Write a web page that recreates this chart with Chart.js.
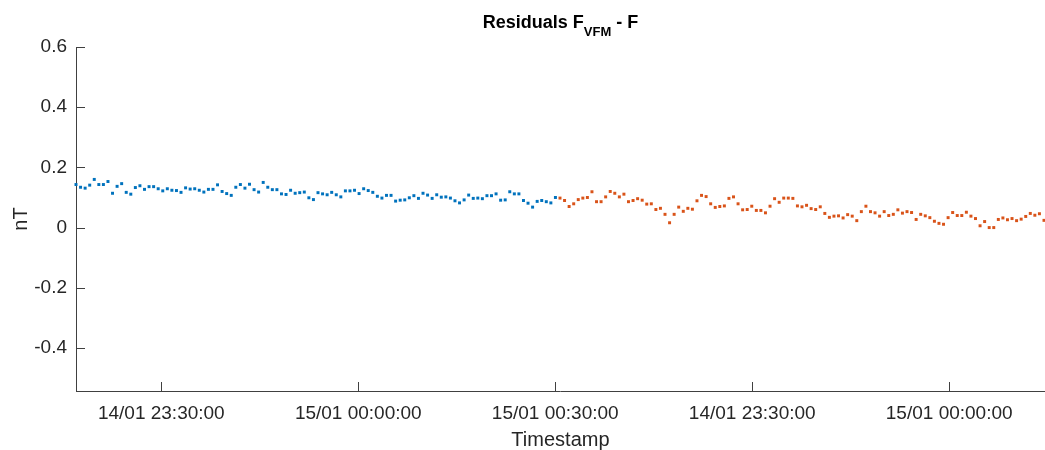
<!DOCTYPE html>
<html>
<head>
<meta charset="utf-8">
<script src="https://cdn.jsdelivr.net/npm/chart.js@4/dist/chart.umd.min.js"></script>
<style>
  body { margin: 0; overflow: hidden; background: #fff; }
  #wrap { position: relative; width: 1047px; height: 456px; }
  #title {
    position: absolute; left: 76px; width: 969px; top: 12px;
    text-align: center; font: bold 18px "Liberation Sans", Arial, sans-serif;
    line-height: 20px; color: #000;
  }
  #title sub { font-size: 13px; vertical-align: -8px; line-height: 0; }
</style>
</head>
<body>
<div id="wrap">
  <div id="title">Residuals F<sub>VFM</sub> - F</div>
  <canvas id="chart" width="1047" height="456"></canvas>
</div>
<script>
// residuals (nT), first run and second run, one value per sample
const blueY = [
  0.143,0.134,0.131,0.141,0.160,0.143,0.143,0.153,0.114,0.137,0.146,0.117,0.111,0.133,0.139,0.127,0.136,0.136,
  0.129,0.122,0.129,0.124,0.123,0.117,0.132,0.128,0.129,0.124,0.118,0.127,0.127,0.142,0.120,0.113,0.107,0.134,
  0.143,0.131,0.144,0.126,0.118,0.150,0.134,0.126,0.126,0.112,0.110,0.124,0.114,0.116,0.118,0.099,0.093,0.116,
  0.112,0.109,0.117,0.109,0.102,0.122,0.122,0.124,0.113,0.129,0.123,0.117,0.104,0.098,0.107,0.107,0.088,
  0.091,0.092,0.099,0.106,0.097,0.114,0.108,0.097,0.109,0.101,0.102,0.098,0.089,0.082,0.092,0.108,0.097,0.098,
  0.096,0.106,0.106,0.112,0.091,0.092,0.119,0.112,0.112,0.090,0.081,0.068,0.087,0.090,0.086,0.082,0.100
];
const orangeY = [
  0.098,0.090,0.070,0.079,0.093,0.098,0.100,0.119,0.086,0.086,0.102,0.120,0.114,0.102,0.111,0.086,0.090,0.096,
  0.091,0.078,0.079,0.060,0.064,0.044,0.016,0.044,0.068,0.054,0.064,0.061,0.089,0.107,0.103,0.079,0.067,
  0.070,0.072,0.097,0.102,0.079,0.059,0.060,0.071,0.057,0.057,0.049,0.071,0.096,0.084,0.098,0.098,0.097,0.072,
  0.069,0.074,0.063,0.060,0.069,0.047,0.034,0.038,0.039,0.032,0.043,0.038,0.023,0.053,0.071,0.053,0.049,
  0.038,0.053,0.040,0.044,0.059,0.048,0.053,0.050,0.027,0.044,0.039,0.033,0.021,0.014,0.011,0.033,0.050,0.040,
  0.040,0.051,0.038,0.030,0.006,0.020,0.000,0.000,0.027,0.032,0.026,0.030,0.023,0.028,0.037,0.047,0.041,0.046,0.024
];

// x tick positions in sample index units and their labels
const xTickPos = [18.68, 61.82, 104.96, 148.1, 191.24];
const xTickLabels = ["14/01 23:30:00", "15/01 00:00:00", "15/01 00:30:00", "14/01 23:30:00", "15/01 00:00:00"];
const yTicks = [-0.4, -0.2, 0, 0.2, 0.4, 0.6];

const axisColor = "#404040";
const textColor = "#262626";

const blueData = blueY.map((v, i) => ({ x: i, y: v }));
const orangeData = orangeY.map((v, i) => ({ x: blueY.length + i, y: v }));

// matlab style ticks, pointing inside the axes
const inwardTicks = {
  id: "inwardTicks",
  afterDraw(chart) {
    const ctx = chart.ctx;
    const a = chart.chartArea;
    const xs = chart.scales.x, ys = chart.scales.y;
    ctx.save();
    ctx.strokeStyle = axisColor;
    ctx.lineWidth = 1;
    ctx.beginPath();
    xTickPos.forEach(v => {
      const px = Math.round(xs.getPixelForValue(v)) + 0.5;
      ctx.moveTo(px, a.bottom);
      ctx.lineTo(px, a.bottom - 9);
    });
    yTicks.forEach(v => {
      const py = Math.round(ys.getPixelForValue(v)) + 0.5;
      ctx.moveTo(a.left, py);
      ctx.lineTo(a.left + 9, py);
    });
    ctx.stroke();
    ctx.restore();
  }
};

new Chart(document.getElementById("chart"), {
  type: "scatter",
  data: {
    datasets: [
      {
        data: blueData,
        backgroundColor: "#0072BD",
        borderWidth: 0,
        pointStyle: "rect",
        pointRadius: 2.1,
        pointHoverRadius: 2.1,
        clip: false
      },
      {
        data: orangeData,
        backgroundColor: "#D95319",
        borderWidth: 0,
        pointStyle: "rect",
        pointRadius: 2.1,
        pointHoverRadius: 2.1,
        clip: false
      }
    ]
  },
  options: {
    responsive: false,
    animation: false,
    layout: { padding: { top: 47, right: 0, left: 0, bottom: 0 } },
    plugins: { legend: { display: false }, tooltip: { enabled: false } },
    scales: {
      x: {
        type: "linear",
        min: 0,
        max: 212.2,
        afterBuildTicks: (scale) => { scale.ticks = xTickPos.map(v => ({ value: v })); },
        afterFit: (scale) => {
          scale.height = 65;
          scale.paddingRight = 0;
          scale.paddingLeft = 0;
        },
        grid: { display: false, drawTicks: false },
        border: { display: true, color: axisColor, width: 1 },
        ticks: {
          autoSkip: false,
          maxRotation: 0,
          padding: 11,
          color: textColor,
          font: { family: "Liberation Sans", size: 19 },
          callback: (value, index) => xTickLabels[index]
        },
        title: {
          display: true,
          text: "Timestamp",
          color: textColor,
          font: { family: "Liberation Sans", size: 20 },
          padding: { top: 2, bottom: 4 }
        }
      },
      y: {
        min: -0.543,
        max: 0.6,
        afterBuildTicks: (scale) => { scale.ticks = yTicks.map(v => ({ value: v })); },
        afterFit: (scale) => { scale.width = 76; },
        grid: { display: false, drawTicks: false },
        border: { display: true, color: axisColor, width: 1 },
        ticks: {
          padding: 9,
          color: textColor,
          font: { family: "Liberation Sans", size: 19 },
          callback: (value) => String(value)
        },
        title: {
          display: true,
          text: "nT",
          color: textColor,
          font: { family: "Liberation Sans", size: 20 },
          padding: { top: 9, bottom: 0 }
        }
      }
    }
  },
  plugins: [inwardTicks]
});
</script>
</body>
</html>
